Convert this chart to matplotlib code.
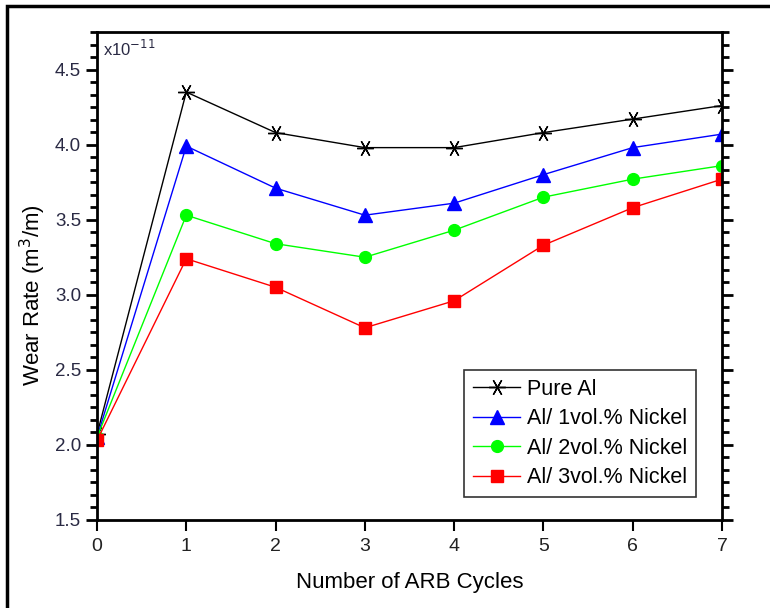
import matplotlib
matplotlib.use("Agg")
import matplotlib.pyplot as plt
from matplotlib.ticker import MultipleLocator
from matplotlib.patches import Rectangle

cycles = [0, 1, 2, 3, 4, 5, 6, 7]
pure_al = [2.07, 4.35, 4.08, 3.98, 3.98, 4.08, 4.17, 4.26]
ni1 = [2.05, 3.99, 3.71, 3.53, 3.61, 3.80, 3.98, 4.07]
ni2 = [2.05, 3.53, 3.34, 3.25, 3.43, 3.65, 3.77, 3.86]
ni3 = [2.03, 3.24, 3.05, 2.78, 2.96, 3.33, 3.58, 3.77]
labels = ["Pure Al", "Al/ 1vol.% Nickel", "Al/ 2vol.% Nickel", "Al/ 3vol.% Nickel"]
xticks = [0, 1, 2, 3, 4, 5, 6, 7]
yticks = [1.5, 2.0, 2.5, 3.0, 3.5, 4.0, 4.5]

plt.rcParams['font.family'] = ['Liberation Sans', 'DejaVu Sans']

fig = plt.figure(figsize=(7.7, 6.08), dpi=100)
ax = fig.add_axes([97/770, 1-520/608, (722-97)/770, (520-32)/608])

ax.plot(cycles, pure_al, color='black', lw=1, marker=(6, 2, 90), ms=12, mew=1, label=labels[0])
ax.plot(cycles, ni1, color='blue', lw=1, marker='^', ms=10, label=labels[1])
ax.plot(cycles, ni2, color='#00ff00', lw=1, marker='o', ms=8.5, label=labels[2])
ax.plot(cycles, ni3, color='red', lw=1, marker='s', ms=8.5, label=labels[3])

ax.set_xlim(0, 7)
ax.set_ylim(1.5, 4.75)
ax.set_xticks(xticks)
ax.set_yticks(yticks)
ax.set_yticklabels([f"{v:.1f}" for v in yticks])
ax.yaxis.set_minor_locator(MultipleLocator(0.5/6))

for s in ax.spines.values():
    s.set_linewidth(2)
ax.tick_params(axis='y', which='major', direction='out', length=8, width=2,
               left=True, right=True, labelsize=13.5, labelcolor='#2a2a44')
ax.tick_params(axis='y', which='minor', direction='out', length=5, width=2,
               left=True, right=True)
ax.tick_params(axis='x', which='major', direction='out', length=8, width=1.5,
               bottom=True, top=False, labelsize=14, labelcolor='#222222', pad=5)

ax.set_xlabel("Number of ARB Cycles", fontsize=16, labelpad=12)
ax.set_ylabel("Wear Rate (m$^3$/m)", fontsize=16)
ax.yaxis.set_label_coords(-0.078, 0.46)

ax.text(0.01, 0.985, r"x10$^{-11}$", transform=ax.transAxes, fontsize=12,
        va='top', ha='left', color='#2a2a44')

leg = ax.legend(loc='lower right', bbox_to_anchor=(0.958, 0.047), fontsize=15.5,
                frameon=True, fancybox=False, edgecolor='black',
                handlelength=2.2, handletextpad=0.3, borderpad=0.4,
                labelspacing=0.4, borderaxespad=0)
leg.get_frame().set_linewidth(1.2)

fig.patches.append(Rectangle((7/770, -0.1), 1.2, 1 - 6/608 + 0.1, transform=fig.transFigure,
                             fill=False, edgecolor='black', lw=2.5))

fig.savefig("out.png", dpi=100)
